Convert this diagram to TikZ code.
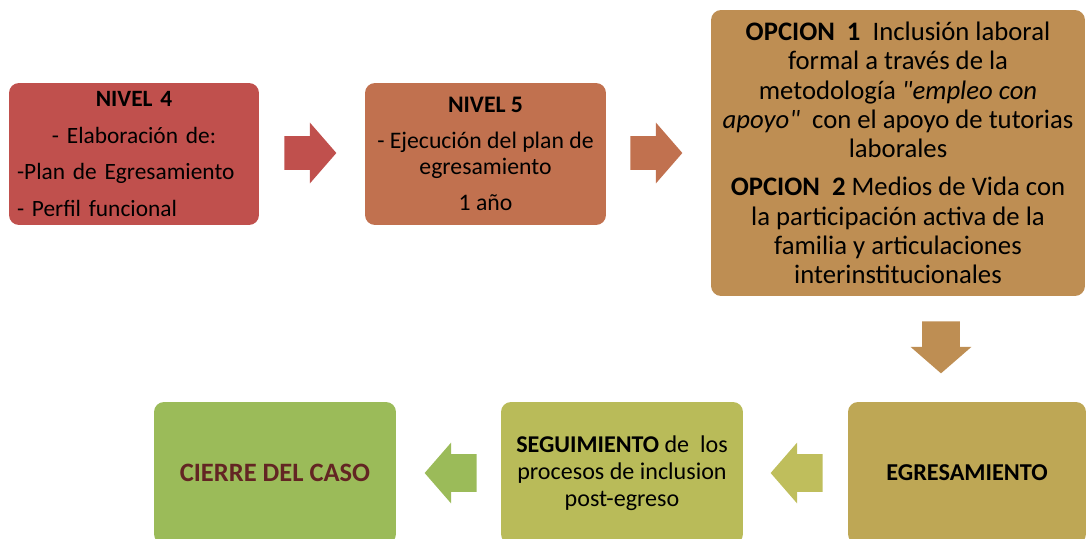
\documentclass[tikz,border=0pt]{standalone}
\usepackage{fontspec}
\setmainfont{Carlito}
\newfontfamily\cita{Carlito}
\usepackage{tikz}
\usetikzlibrary{shapes.arrows}
\definecolor{rojo}{HTML}{C0504D}
\definecolor{teja}{HTML}{C1714F}
\definecolor{ocre}{HTML}{BE8E53}
\definecolor{mostaza}{HTML}{BEA755}
\definecolor{oliva}{HTML}{B9BB59}
\definecolor{oliva2}{HTML}{BFBE5C}
\definecolor{verde}{HTML}{9BBB59}
\definecolor{vino}{HTML}{632523}
\tikzstyle{Etapa}=[rectangle, rounded corners=0.2cm, inner sep=0, align=center, text=black]
\tikzstyle{Flecha}=[single arrow, anchor=tail, minimum height=1.04cm, minimum width=1.2cm, inner xsep=0, inner ysep=0.33cm, single arrow head extend=0.27cm, single arrow tip angle=98]
\tikzstyle{FlechaB}=[Flecha, inner ysep=0.37cm, single arrow head extend=0.23cm]

\begin{document}
\begin{tikzpicture}[x=0.02cm, y=-0.02cm]
    \useasboundingbox (0,0) rectangle (1086,538);
    % top row
    \path
    (134,154) node[Etapa, fill=rojo, minimum width=5cm, minimum height=2.84cm, text width=4.68cm, align=left, font=\fontsize{13.3}{16}\selectfont] (n4)
        {\makebox[4.68cm][c]{\textbf{NIVEL 4}}\\[5pt]
         \makebox[4.68cm][c]{- Elaboración de:}\\[5pt]
         -Plan de Egresamiento\\[5pt]
         - Perfil funcional}
    (485.5,154) node[Etapa, fill=teja, minimum width=4.82cm, minimum height=2.84cm, font=\fontsize{13.5}{14.6}\selectfont] (n5)
        {\textbf{NIVEL 5}\\[6pt]
         - Ejecución del plan de\\ egresamiento\\[6pt]
         1 año}
    (898,153) node[Etapa, fill=ocre, minimum width=7.48cm, minimum height=5.72cm, font=\fontsize{15.2}{16.7}\selectfont] (opc)
        {\textbf{OPCION\ \ 1}\ \ Inclusión laboral\\
         formal a través de la\\
         metodología {\cita\itshape"empleo con}\\
         {\cita\itshape apoyo"}\ \ con el apoyo de tutorias\\
         laborales\\[5pt]
         \textbf{OPCION\ \ 2} Medios de Vida con\\
         la participación activa de la\\
         familia y articulaciones\\
         interinstitucionales};

    % bottom row
    \path
    (967,473) node[Etapa, fill=mostaza, minimum width=4.76cm, minimum height=2.84cm, font=\fontsize{13.8}{16}\selectfont\bfseries] (egr) {EGRESAMIENTO}
    (622,473) node[Etapa, fill=oliva, minimum width=4.84cm, minimum height=2.84cm, font=\fontsize{13.7}{15.3}\selectfont] (seg)
        {\textbf{SEGUIMIENTO} de\ \ los\\ procesos de inclusion\\ post-egreso}
    (275,473) node[Etapa, fill=verde, minimum width=4.84cm, minimum height=2.84cm, text=vino, font=\fontsize{15.1}{16}\selectfont\bfseries] (cie) {CIERRE DEL CASO};

    % block arrows
    \path
    (284,153) node[Flecha, fill=rojo] (f45) {}
    (630,153) node[Flecha, fill=teja] (f5o) {}
    (941,321) node[FlechaB, fill=ocre, rotate=-90] (foe) {}
    (823,473) node[FlechaB, fill=oliva2, rotate=180] (fes) {}
    (477,473) node[FlechaB, fill=verde, rotate=180] (fsc) {};
\end{tikzpicture}
\end{document}
